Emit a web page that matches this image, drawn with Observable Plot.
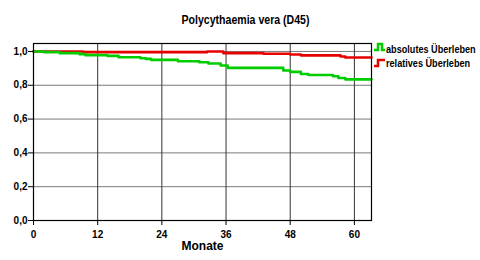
<!DOCTYPE html>
<html>
<head>
<meta charset="utf-8">
<script src="https://cdn.jsdelivr.net/npm/d3@7"></script>
<script src="https://cdn.jsdelivr.net/npm/@observablehq/plot@0.6"></script>
<style>
  html, body { margin: 0; padding: 0; background: #fff; }
  #wrap { position: relative; width: 480px; height: 260px; }
  #legend { position: absolute; left: 0; top: 0; pointer-events: none; }
</style>
</head>
<body>
<div id="wrap"></div>
<script>
const titleText = "Polycythaemia vera (D45)";
const xLabel = "Monate";
const seriesNames = ["absolutes Überleben", "relatives Überleben"];
const xTicks = [0, 12, 24, 36, 48, 60];
const yTicks = [0, 0.2, 0.4, 0.6, 0.8, 1.0];

const absTime = [0, 1.9, 4.9, 8.6, 9.7, 13.8, 15.9, 20, 21, 22, 27, 31, 32.7, 35, 36.3, 46.7, 48, 50, 51.4, 56, 57, 58.3, 63.2];
const absSurv = [1.0, 0.996, 0.99, 0.984, 0.978, 0.974, 0.966, 0.96, 0.956, 0.95, 0.942, 0.936, 0.929, 0.917, 0.903, 0.887, 0.879, 0.867, 0.861, 0.853, 0.843, 0.835, 0.835];

const relTime = [0, 9.3, 32.5, 35.5, 43, 48, 50, 57.4, 58.3, 63.2];
const relSurv = [1.0, 0.996, 1.0, 0.99, 0.986, 0.982, 0.977, 0.97, 0.964, 0.964];

const absData = absTime.map((t, i) => ({t, v: absSurv[i]}));
const relData = relTime.map((t, i) => ({t, v: relSurv[i]}));

const font = "'Liberation Sans', Arial, sans-serif";
const fmt = v => d3.format(".1f")(v).replace(".", ",");

const chart = Plot.plot({
  width: 480,
  height: 260,
  marginTop: 43,
  marginRight: 109,
  marginBottom: 40,
  marginLeft: 33,
  style: {fontFamily: font, fontWeight: "bold", fontSize: "10px", color: "#000", background: "#fff"},
  x: {domain: [0, 63.2]},
  y: {domain: [0, 1.047]},
  marks: [
    Plot.gridY(yTicks, {stroke: "#7a7a7a", strokeOpacity: 1}),
    Plot.gridX(xTicks, {stroke: "#333", strokeOpacity: 1}),
    Plot.line(relData, {x: "t", y: "v", curve: "step-after", stroke: "#e60000", strokeWidth: 2.6}),
    Plot.line(absData, {x: "t", y: "v", curve: "step-after", stroke: "#00cc00", strokeWidth: 2.6}),
    Plot.frame({stroke: "#000", strokeWidth: 1.2}),
    Plot.axisY(yTicks, {tickSize: 5, tickFormat: fmt, label: null, tickPadding: 1, fontSize: 10, fontWeight: "bold"}),
    Plot.axisX(xTicks, {tickSize: 5, label: null, tickPadding: 5, fontSize: 10, fontWeight: "bold"}),
    Plot.text([xLabel], {frameAnchor: "bottom", dy: 29, fontSize: 12, fontWeight: "bold", fontFamily: font, className: "xlabel"}),
    Plot.text([titleText], {frameAnchor: "top", dy: -28, dx: 43, fontSize: 12, fontWeight: "bold", fontFamily: font, className: "ttl"})
  ]
});

const wrap = document.getElementById("wrap");
wrap.appendChild(chart);

// condense title text like the narrow original font
d3.select(chart).selectAll(".ttl text").attr("textLength", 128).attr("lengthAdjust", "spacingAndGlyphs");
d3.select(chart).selectAll(".xlabel text").attr("textLength", 42).attr("lengthAdjust", "spacingAndGlyphs");

// legend
const legendColors = ["#00cc00", "#e60000"];
const legendPaths = ["M0,8 H4 V2 H8 V8 H11", "M0,10 H4 V4 H11"];
const legendTops = [42, 56];
const lg = d3.select(wrap).append("svg").attr("id", "legend").attr("width", 480).attr("height", 260);
seriesNames.forEach((name, i) => {
  const g = lg.append("g").attr("transform", `translate(374,${legendTops[i]})`);
  g.append("path").attr("d", legendPaths[i]).attr("fill", "none").attr("stroke", legendColors[i]).attr("stroke-width", 2.5);
  g.append("text").attr("transform", "translate(12,11) scale(0.83,1)")
    .attr("font-family", font).attr("font-weight", "bold").attr("font-size", 11)
    .text(name);
});
</script>
</body>
</html>
